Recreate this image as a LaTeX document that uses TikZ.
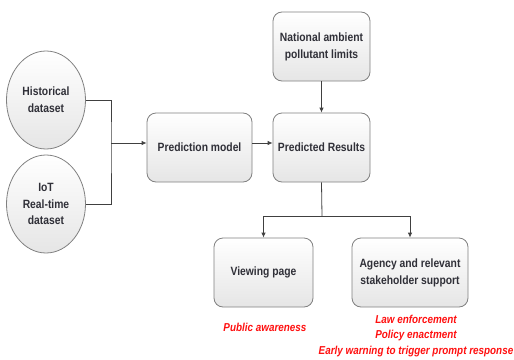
\documentclass[tikz,border=0pt]{standalone}
\usepackage{fontspec}
\setmainfont{Liberation Sans}[FakeStretch=0.86]
\usetikzlibrary{shapes.geometric,arrows.meta}
\definecolor{txt}{HTML}{303038}
\definecolor{edge}{HTML}{808080}
\definecolor{wire}{HTML}{404040}
\definecolor{redtxt}{HTML}{FF1010}
\tikzset{
  x=1pt,y=-1pt,
  boxbase/.style={draw=edge,line width=0.8pt,top color=white,bottom color=black!10,
    text=txt,font=\bfseries\fontsize{12}{16.8}\selectfont,align=center,inner sep=0pt},
  rbox/.style={boxbase,rectangle,rounded corners=9pt,minimum height=69pt},
  ebox/.style={boxbase,ellipse,minimum width=79pt,minimum height=98pt},
  wireline/.style={draw=wire,line width=0.8pt},
  arrowline/.style={wireline,-{Latex[length=5pt,width=4.5pt]}},
  note/.style={text=redtxt,font=\bfseries\itshape\fontsize{11.5}{15.5}\selectfont,align=center,inner sep=0pt}
}
\begin{document}
\begin{tikzpicture}
\useasboundingbox (0,0) rectangle (514,359);
\node[ebox] (hist) at (46,100) {Historical\\dataset};
\node[ebox] (iot) at (46,204) {IoT\\Real-time\\dataset};
\node[rbox,minimum width=105pt] (pm) at (199.5,147.5) {Prediction model};
\node[rbox,minimum width=97pt] (pr) at (321.5,147.5) {Predicted Results};
\node[rbox,minimum width=97pt] (nat) at (321.5,46.5) {National ambient\\pollutant limits};
\node[rbox,minimum width=99pt] (vp) at (263.5,272.5) {Viewing page};
\node[rbox,minimum width=116pt] (ag) at (410,272.5) {Agency and relevant\\stakeholder support};
\node[note] (pa) at (265,327) {Public awareness};
\node[note] (law) at (416,336) {Law enforcement\\Policy enactment\\Early warning to trigger prompt response};
\coordinate (j) at (111,143);
\coordinate (k) at (322,216);
\draw[wireline] (hist.east) -| (j) |- (iot.east);
\draw[arrowline] (j) -- (pm.west |- j);
\draw[arrowline] (pm.east |- j) -- (pr.west |- j);
\draw[arrowline] (nat) -- (pr);
\draw[wireline] (pr.south) -- (k);
\draw[arrowline] (k) -| (vp.north);
\draw[arrowline] (k) -| (ag.north);
\end{tikzpicture}
\end{document}
